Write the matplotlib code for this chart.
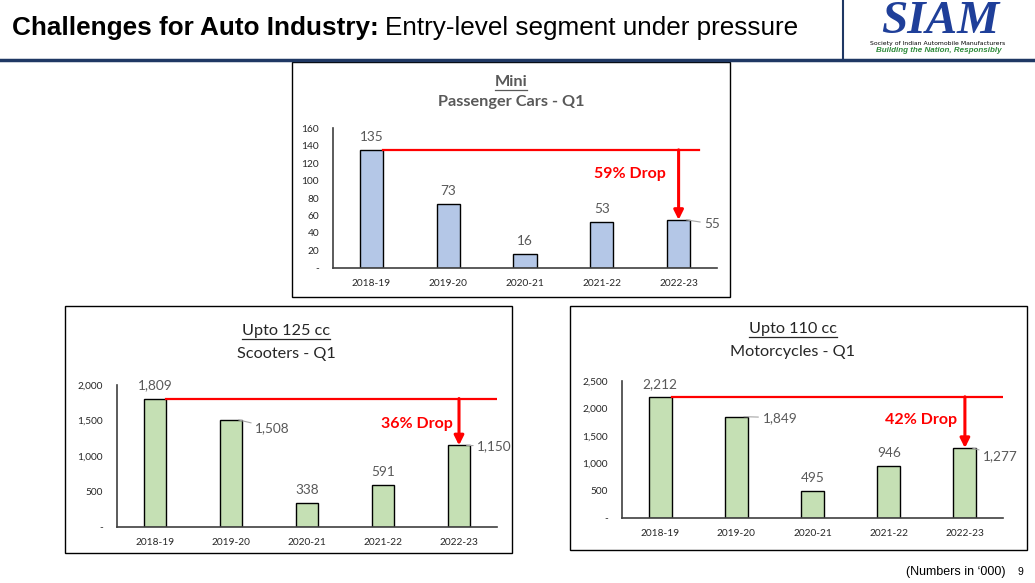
import matplotlib
matplotlib.use("Agg")
import matplotlib.pyplot as plt
from matplotlib.patches import Rectangle
from matplotlib.lines import Line2D
from matplotlib.ticker import FuncFormatter

W, H = 1035, 583

years = ["2018-19", "2019-20", "2020-21", "2021-22", "2022-23"]

mini_vals = [135, 73, 16, 53, 55]
scooter_vals = [1809, 1508, 338, 591, 1150]
moto_vals = [2212, 1849, 495, 946, 1277]

mini_ticks = [0, 20, 40, 60, 80, 100, 120, 140, 160]
scooter_ticks = [0, 500, 1000, 1500, 2000]
moto_ticks = [0, 500, 1000, 1500, 2000, 2500]

drops = ["59% Drop", "36% Drop", "42% Drop"]

BLUE = "#B4C7E7"
GREEN = "#C5E0B4"
RED = "#FF0000"
NAVY = "#1F3864"
FONT = "Lato"

fig = plt.figure(figsize=(W / 100, H / 100), dpi=100)
fig.patch.set_facecolor("white")


def fx(x):
    return x / W


def fy(y):
    return 1 - y / H


def px_axes(l, t, r, b):
    return fig.add_axes([fx(l), fy(b), fx(r - l), (b - t) / H])


def box(l, t, r, b):
    fig.add_artist(Rectangle((fx(l), fy(b)), fx(r - l), (b - t) / H,
                             transform=fig.transFigure, fill=False,
                             edgecolor="black", lw=1))


def fmt(v, pos=None):
    if v == 0:
        return "-"
    return f"{int(v):,}"


underlines = []


def panel(ax, vals, ticks, color, drop, drop_xy, right_lbl, right_offs, xend):
    x = range(len(vals))
    bw = 0.3
    ax.bar(x, vals, width=bw, color=color, edgecolor="black", lw=1, zorder=2)
    ax.set_xlim(-0.5, 4.5)
    ax.set_ylim(0, ticks[-1])
    ax.set_yticks(ticks)
    ax.yaxis.set_major_formatter(FuncFormatter(fmt))
    ax.set_xticks(list(x))
    ax.set_xticklabels(years)
    ax.tick_params(length=0, labelsize=7.3, colors="#262626", pad=8)
    ax.tick_params(axis="y", pad=10)
    for lab in ax.get_xticklabels() + ax.get_yticklabels():
        lab.set_fontfamily(FONT)
    for s in ["top", "right"]:
        ax.spines[s].set_visible(False)
    for s in ["left", "bottom"]:
        ax.spines[s].set_color("#404040")
        ax.spines[s].set_linewidth(1.2)
    ax.patch.set_alpha(0)

    # data labels
    for i, v in enumerate(vals):
        if i in right_lbl:
            dx, dy = right_offs[right_lbl.index(i)]
            ax.annotate(f"{v:,}", xy=(i + 0.1, v), xytext=(dx, -dy),
                        textcoords="offset pixels", ha="center", va="center",
                        fontsize=9.8, color="#595959", fontfamily=FONT,
                        arrowprops=dict(arrowstyle="-", color="#A6A6A6", lw=0.8,
                                        shrinkA=1, shrinkB=0))
        else:
            ax.annotate(f"{v:,}", xy=(i, v), xytext=(0, 7),
                        textcoords="offset pixels", ha="center", va="bottom",
                        fontsize=9.8, color="#595959", fontfamily=FONT)

    # drop line and arrow
    v0, v4 = vals[0], vals[-1]
    ax.plot([bw / 2, xend], [v0, v0], color=RED, lw=1.6, zorder=3)
    ax.annotate("", xy=(4, v4), xytext=(4, v0),
                arrowprops=dict(arrowstyle="-|>", color=RED, lw=2.2,
                                mutation_scale=14, shrinkA=0, shrinkB=0),
                zorder=4)
    ax.text(drop_xy[0], drop_xy[1], drop, ha="center", va="center",
            color=RED, fontsize=11.5, fontweight="bold", fontfamily=FONT)


def titles(cx, y1, y2, t1, t2, color, weight):
    a = fig.text(fx(cx), fy(y1), t1, ha="center", va="center", fontsize=11.7,
                 color=color, fontweight=weight, fontfamily=FONT)
    fig.text(fx(cx), fy(y2), t2, ha="center", va="center", fontsize=11.7,
             color=color, fontweight=weight, fontfamily=FONT)
    underlines.append((a, color))


# header
fig.text(fx(12), fy(28), "Challenges for Auto Industry:", ha="left", va="center",
         fontsize=18.8, fontweight="bold", fontfamily="Liberation Sans", color="black")
hdr_bold = fig.texts[-1]
fig.add_artist(Line2D([0, 1], [fy(60), fy(60)], transform=fig.transFigure,
                      color=NAVY, lw=2.5))
fig.add_artist(Line2D([fx(843), fx(843)], [fy(0), fy(59)], transform=fig.transFigure,
                      color=NAVY, lw=1.5))
fig.text(fx(940), fy(22), "SIAM", ha="center", va="center", fontsize=34,
         fontweight="bold", style="italic", fontfamily="Liberation Serif",
         color="#1F3F99")
fig.text(fx(938), fy(44), "Society of Indian Automobile Manufacturers", ha="center",
         va="center", fontsize=4.4, fontfamily="Liberation Sans Narrow", color="black")
fig.text(fx(939), fy(51), "Building the Nation, Responsibly", ha="center",
         va="center", fontsize=5.8, fontweight="bold", style="italic",
         fontfamily="Liberation Sans", color="#2E8B3A")

# panel 1: Mini passenger cars
box(292, 62, 730, 297)
titles(511, 82, 102, "Mini", "Passenger Cars - Q1", "#595959", "bold")
ax1 = px_axes(333, 128, 717, 268)
panel(ax1, mini_vals, mini_ticks, BLUE, drops[0], (3.37, 108),
      [4], [(26, 4)], 4.27)

# panel 2: scooters
box(65, 306, 512, 553)
titles(286, 331, 354, "Upto 125 cc", "Scooters - Q1", "#262626", "normal")
ax2 = px_axes(117, 385, 497, 527)
panel(ax2, scooter_vals, scooter_ticks, GREEN, drops[1], (3.45, 1451),
      [1, 4], [(34, 8), (28, 1)], 4.55)

# panel 3: motorcycles
box(570, 306, 1027, 550)
titles(793, 329, 352, "Upto 110 cc", "Motorcycles - Q1", "#262626", "normal")
ax3 = px_axes(622, 381, 1003, 518)
panel(ax3, moto_vals, moto_ticks, GREEN, drops[2], (3.42, 1788),
      [1, 4], [(36, 1), (28, 8)], 4.55)

fig.text(fx(1005), fy(572), "(Numbers in \u2018000)", ha="right", va="center",
         fontsize=9, fontfamily="Liberation Sans", color="black")
fig.text(fx(1020), fy(572), "9", ha="center", va="center",
         fontsize=7.5, fontfamily="Liberation Sans", color="black")

# header regular part and underlines need text extents
fig.canvas.draw()
r = fig.canvas.get_renderer()
bb = hdr_bold.get_window_extent(r)
fig.text(bb.x1 / W + fx(6), fy(28), "Entry-level segment under pressure", ha="left",
         va="center", fontsize=18.8, fontfamily="Liberation Sans", color="black")
for t, c in underlines:
    b = t.get_window_extent(r)
    yy = (b.y0 - 1) / H
    fig.add_artist(Line2D([b.x0 / W, b.x1 / W], [yy, yy], transform=fig.transFigure,
                          color=c, lw=0.9))

fig.savefig("out.png", dpi=100, facecolor="white")
